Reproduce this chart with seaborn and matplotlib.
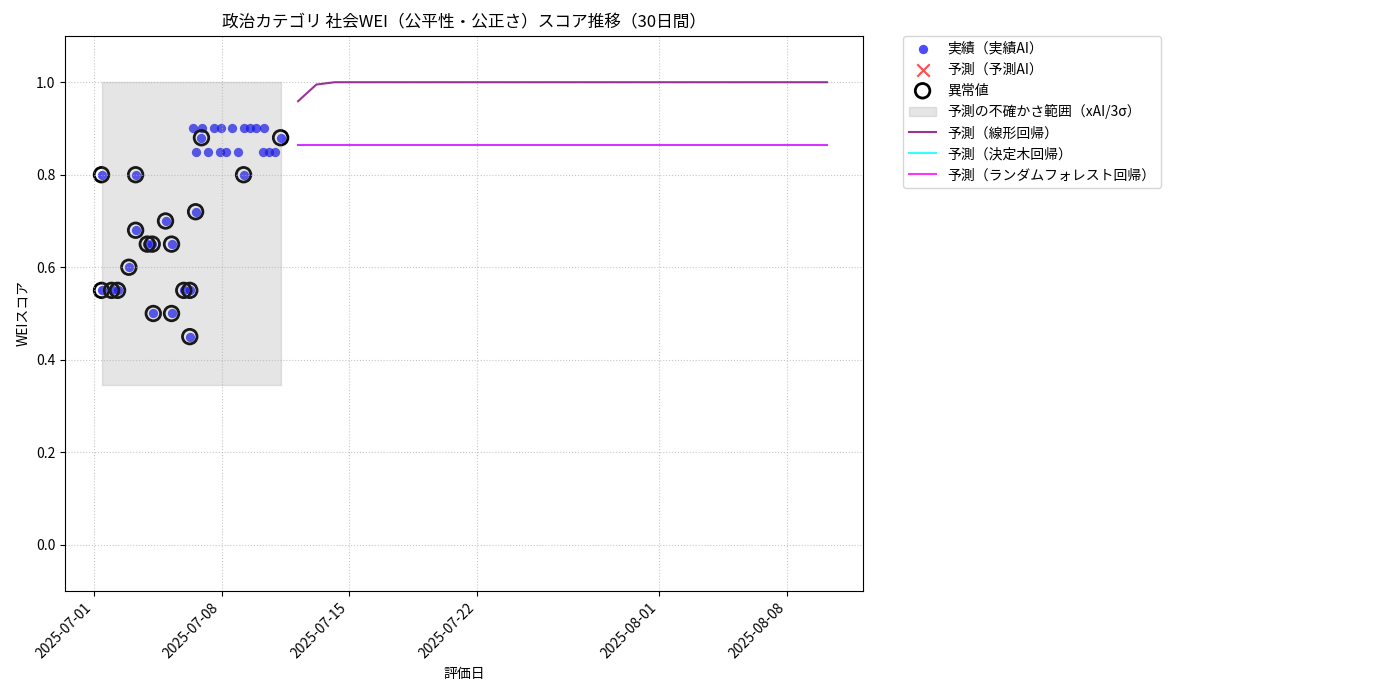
import pandas as pd
import matplotlib
matplotlib.use('Agg')
import matplotlib.pyplot as plt
import matplotlib.dates as mdates
import seaborn as sns

plt.rcParams['font.family'] = ['Noto Sans CJK JP', 'DejaVu Sans']

# Actual scores (timestamp, value)
actual_dates = [
    '2025-07-01 10:05', '2025-07-01 10:05', '2025-07-01 23:17', '2025-07-02 07:12',
    '2025-07-02 22:05', '2025-07-03 06:58', '2025-07-03 06:58', '2025-07-03 22:19',
    '2025-07-04 04:48', '2025-07-04 06:14', '2025-07-04 22:19', '2025-07-05 06:14',
    '2025-07-05 06:14', '2025-07-05 22:19', '2025-07-06 06:14', '2025-07-06 06:14',
    '2025-07-06 10:19', '2025-07-06 13:55', '2025-07-06 14:38', '2025-07-06 21:36',
    '2025-07-06 22:34', '2025-07-07 06:29', '2025-07-07 13:55', '2025-07-07 21:36',
    '2025-07-07 22:48', '2025-07-08 06:14', '2025-07-08 13:12', '2025-07-08 21:22',
    '2025-07-09 05:02', '2025-07-09 05:17', '2025-07-09 12:58', '2025-07-09 21:36',
    '2025-07-10 06:29', '2025-07-10 07:41', '2025-07-10 14:24', '2025-07-10 22:05',
    '2025-07-11 05:46',
]
actual_scores = [
    0.80, 0.55, 0.55, 0.55,
    0.60, 0.80, 0.68, 0.65,
    0.65, 0.50, 0.70, 0.65,
    0.50, 0.55, 0.55, 0.45,
    0.90, 0.72, 0.85, 0.88,
    0.90, 0.85, 0.90, 0.85,
    0.90, 0.85, 0.90, 0.85,
    0.80, 0.90, 0.90, 0.90,
    0.85, 0.90, 0.85, 0.85,
    0.88,
]
anomaly_flags = [
    1, 1, 1, 1,
    1, 1, 1, 1,
    1, 1, 1, 1,
    1, 1, 1, 1,
    0, 1, 0, 1,
    0, 0, 0, 0,
    0, 0, 0, 0,
    1, 0, 0, 0,
    0, 0, 0, 0,
    1,
]

# Uncertainty band (xAI / 3 sigma)
band_lower = 0.345
band_upper = 1.0

# 30-day forecasts
pred_start = '2025-07-12 04:48'
pred_linear = [0.959, 0.995, 1.0, 1.0, 1.0, 1.0, 1.0, 1.0, 1.0, 1.0,
               1.0, 1.0, 1.0, 1.0, 1.0, 1.0, 1.0, 1.0, 1.0, 1.0,
               1.0, 1.0, 1.0, 1.0, 1.0, 1.0, 1.0, 1.0, 1.0, 1.0]
pred_tree = [0.865, 0.865, 0.865, 0.865, 0.865, 0.865, 0.865, 0.865, 0.865, 0.865,
             0.865, 0.865, 0.865, 0.865, 0.865, 0.865, 0.865, 0.865, 0.865, 0.865,
             0.865, 0.865, 0.865, 0.865, 0.865, 0.865, 0.865, 0.865, 0.865, 0.865]
pred_forest = [0.865, 0.865, 0.865, 0.865, 0.865, 0.865, 0.865, 0.865, 0.865, 0.865,
               0.865, 0.865, 0.865, 0.865, 0.865, 0.865, 0.865, 0.865, 0.865, 0.865,
               0.865, 0.865, 0.865, 0.865, 0.865, 0.865, 0.865, 0.865, 0.865, 0.865]

df = pd.DataFrame({'date': pd.to_datetime(actual_dates), 'score': actual_scores,
                   'anomaly': anomaly_flags})
anom = df[df['anomaly'] == 1]
pred = pd.DataFrame({'date': pd.date_range(pred_start, periods=len(pred_linear), freq='D'),
                     'linear': pred_linear, 'tree': pred_tree, 'forest': pred_forest})

fig, ax = plt.subplots(figsize=(14, 7), dpi=100)

sns.scatterplot(x='date', y='score', data=df, color='blue', alpha=0.7, s=45,
                linewidth=0, label='実績（実績AI）', ax=ax)
ax.scatter([], [], marker='x', color='red', alpha=0.7, s=80, label='予測（予測AI）')
ax.scatter(anom['date'], anom['score'], facecolors='none', edgecolors='black',
           s=110, linewidths=2, label='異常値')
ax.fill_between(df['date'], band_lower, band_upper, color='gray', alpha=0.2,
                label='予測の不確かさ範囲（xAI/3σ）')
sns.lineplot(x='date', y='linear', data=pred, color='purple', alpha=0.8,
             label='予測（線形回帰）', ax=ax)
sns.lineplot(x='date', y='tree', data=pred, color='cyan', alpha=0.8,
             label='予測（決定木回帰）', ax=ax)
sns.lineplot(x='date', y='forest', data=pred, color='magenta', alpha=0.8,
             label='予測（ランダムフォレスト回帰）', ax=ax)

ax.set_ylim(-0.1, 1.1)
ax.set_title('政治カテゴリ 社会WEI（公平性・公正さ）スコア推移（30日間）', fontsize=12)
ax.set_xlabel('評価日')
ax.set_ylabel('WEIスコア')
ax.xaxis.set_major_formatter(mdates.DateFormatter('%Y-%m-%d'))
plt.setp(ax.get_xticklabels(), rotation=45, ha='right')
ax.grid(True, linestyle=':', alpha=0.7)
ax.legend(bbox_to_anchor=(1.05, 1), loc='upper left', borderaxespad=0)

plt.subplots_adjust(left=0.0466, right=0.6166, top=0.9486, bottom=0.1557)
plt.savefig('out.png', dpi=100)
plt.close()
